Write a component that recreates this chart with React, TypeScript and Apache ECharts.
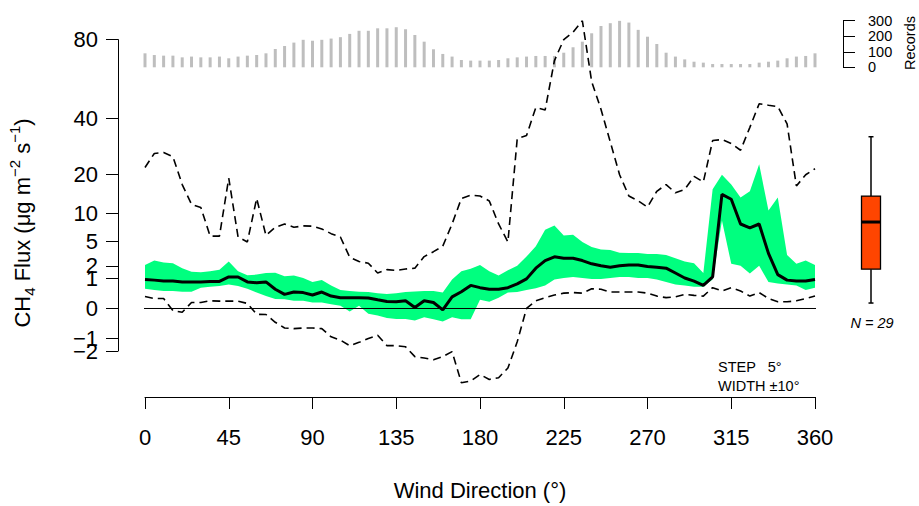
import React, { useEffect, useRef } from "react";
import * as echarts from "echarts";

const directions = [
  0, 5, 10, 15, 20, 25, 30, 35, 40, 45, 50, 55, 60, 65, 70, 75, 80, 85, 90, 95,
  100, 105, 110, 115, 120, 125, 130, 135, 140, 145, 150, 155, 160, 165, 170, 175,
  180, 185, 190, 195, 200, 205, 210, 215, 220, 225, 230, 235, 240, 245, 250, 255,
  260, 265, 270, 275, 280, 285, 290, 295, 300, 305, 310, 315, 320, 325, 330, 335,
  340, 345, 350, 355, 360,
];

const meanFlux = [
  0.93, 0.89, 0.84, 0.83, 0.78, 0.77, 0.77, 0.81, 0.81, 1.1, 1.1, 0.78, 0.73, 0.78, 0.41,
  0.22, 0.3, 0.28, 0.2, 0.3, 0.17, 0.13, 0.13, 0.125, 0.12, 0.083, 0.054, 0.049, 0.065,
  0.001, 0.065, 0.04, -0.002, 0.15, 0.31, 0.59, 0.48, 0.41, 0.41, 0.48, 0.67, 0.97, 1.8,
  2.54, 2.95, 2.79, 2.79, 2.54, 2.21, 2.02, 1.89, 2.02, 2.1, 2.1, 1.96, 1.89, 1.8, 1.39,
  1.03, 0.83, 0.59, 1.1, 14.4, 13.2, 7.9, 7.2, 7.9, 3.36, 1.27, 0.89, 0.83, 0.83, 0.93,
];

const bandUpper = [
  2.1, 2.54, 2.34, 2.27, 1.8, 1.5, 1.45, 1.53, 1.67, 2.44, 1.53, 1.22, 1.27, 1.39, 1.42,
  1.15, 1.2, 1.03, 0.77, 0.89, 0.59, 0.38, 0.34, 0.31, 0.3, 0.26, 0.23, 0.26, 0.3, 0.32,
  0.34, 0.34, 0.28, 0.93, 1.53, 1.75, 2.1, 1.53, 1.2, 1.61, 2.02, 2.98, 4.3, 6.85, 7.6,
  5.9, 6.0, 4.9, 4.2, 3.86, 3.78, 3.45, 3.4, 3.4, 3.29, 3.29, 3.17, 2.79, 2.44, 2.27, 1.39,
  15.7, 19.8, 17.0, 13.6, 15.2, 23.0, 10.6, 13.6, 3.17, 2.21, 2.54, 2.1,
];

const bandLower = [
  0.43, 0.38, 0.34, 0.34, 0.31, 0.31, 0.48, 0.52, 0.56, 0.64, 0.56, 0.43, 0.28, 0.17, 0.1,
  0.096, 0.065, 0.065, 0.04, 0.04, 0.02, 0.008, -0.01, 0.008, -0.03, -0.055, -0.1, -0.12,
  -0.12, -0.16, -0.085, -0.13, -0.19, -0.085, -0.13, -0.13, 0.083, 0.05, 0.13, 0.28, 0.3,
  0.38, 0.45, 0.59, 0.93, 1.03, 1.1, 1.03, 0.97, 0.97, 1.03, 1.1, 1.1, 1.03, 1.03, 0.93,
  0.77, 0.64, 0.59, 0.52, 0.52, 0.93, 8.56, 2.21, 2.02, 1.35, 2.02, 0.77, 0.69, 0.64, 0.59,
  0.38, 0.48,
];

const dashedUpper = [
  22.0, 26.6, 26.9, 25.5, 17.0, 12.0, 11.3, 5.8, 5.8, 18.8, 5.66, 4.9, 13.4, 5.9, 7.3,
  7.9, 7.3, 7.55, 7.5, 7.0, 6.2, 5.66, 2.9, 2.44, 2.27, 1.39, 1.67, 1.6, 1.72, 1.8, 2.98,
  3.57, 4.3, 7.9, 13.4, 14.2, 14.0, 12.8, 7.9, 4.9, 31.9, 33.1, 44.7, 43.6, 68.0, 80.0,
  84.4, 91.6, 57.0, 43.9, 30.7, 19.8, 14.0, 12.8, 11.4, 15.2, 17.0, 14.8, 15.7, 19.3, 17.7,
  31.2, 31.6, 30.1, 27.7, 36.3, 46.4, 45.7, 45.1, 37.7, 16.6, 19.8, 21.6,
];

const dashedLower = [
  0.16, 0.11, 0.11, -0.005, -0.016, 0.04, 0.04, 0.065, 0.06, 0.06, 0.06, 0.028, -0.037,
  -0.04, -0.21, -0.42, -0.45, -0.42, -0.42, -0.45, -0.89, -1.11, -1.53, -1.27, -0.99,
  -0.79, -1.53, -1.53, -1.62, -2.56, -2.72, -2.91, -2.56, -2.06, -6.1, -5.83, -4.82, -5.57,
  -5.3, -3.91, -1.23, 0.0, 0.065, 0.13, 0.2, 0.26, 0.28, 0.26, 0.43, 0.41, 0.3, 0.3, 0.3,
  0.3, 0.26, 0.17, 0.13, 0.15, 0.22, 0.19, 0.17, 0.48, 0.34, 0.48, 0.34, 0.17, 0.28, 0.11,
  0.05, 0.05, 0.065, 0.11, 0.17,
];

const records = [
  90, 79, 75, 75, 64, 69, 64, 64, 69, 58, 69, 75, 79, 90, 118, 137, 159, 177, 171, 177,
  185, 194, 215, 235, 235, 251, 251, 258, 245, 208, 165, 116, 86, 69, 47, 43, 43, 43, 47,
  58, 64, 69, 73, 73, 73, 94, 129, 165, 219, 266, 284, 299, 288, 241, 197, 150, 94, 69, 51,
  36, 30, 21, 21, 21, 21, 21, 30, 36, 43, 58, 69, 73, 90,
];

// listed so that the crowded pairs (−2/−1) are not the first two labels
const yTickValues = [0, -1, -2, 1, 2, 5, 10, 20, 40, 80];
const recordTicks = [0, 100, 200, 300];
// min whisker, Q1, median, Q3, max whisker
const boxStats = [0.13, 2.14, 9.0, 14.8, 33.4];
const nObs = 29;
const stepText = "STEP   5°";
const widthText = "WIDTH ±10°";

const tr = (v: number) => Math.sign(v) * Math.sqrt(Math.abs(v));

const FONT = "'Liberation Sans', Arial, Helvetica, sans-serif";

export default function App() {
  const ref = useRef<HTMLDivElement>(null);

  useEffect(() => {
    if (!ref.current) return;
    const chart = echarts.init(ref.current, undefined, { renderer: "svg" });
    const yMin = tr(-2);
    const yMax = tr(80);
    const yTicksT = yTickValues.map(tr);

    const bandData = directions.map((d, i) => [d, tr(bandLower[i]), tr(bandUpper[i])]);

    const option: any = {
      animation: false,
      textStyle: { fontFamily: FONT },
      grid: [
        { left: 145, right: 104, top: 39.6, bottom: 148.5 },
        { left: 145, right: 104, top: 20.7, bottom: 438.7 },
        { left: 860, right: 37, top: 39.6, bottom: 148.5 },
      ],
      xAxis: [
        {
          type: "value",
          gridIndex: 0,
          min: 0,
          max: 360,
          interval: 45,
          offset: 46,
          axisLine: { show: true, onZero: false, lineStyle: { color: "#000", width: 1 } },
          axisTick: { show: true, length: 12, lineStyle: { color: "#000", width: 1 } },
          axisLabel: { fontSize: 22, color: "#000", margin: 29, fontFamily: FONT },
          splitLine: { show: false },
          name: "Wind Direction (°)",
          nameLocation: "middle",
          nameGap: 82,
          nameTextStyle: { fontSize: 22, color: "#000", fontFamily: FONT },
        },
        { type: "value", gridIndex: 1, min: 0, max: 360, show: false },
        { type: "category", gridIndex: 2, data: ["box"], show: false },
      ],
      yAxis: [
        {
          type: "value",
          gridIndex: 0,
          min: yMin,
          max: yMax,
          offset: 27,
          axisLine: { show: true, onZero: false, lineStyle: { color: "#000", width: 1 } },
          axisTick: {
            show: true,
            length: 12,
            customValues: yTicksT,
            lineStyle: { color: "#000", width: 1 },
          },
          axisLabel: {
            customValues: yTicksT,
            hideOverlap: false,
            fontSize: 22,
            color: "#000",
            margin: 20,
            fontFamily: FONT,
            formatter: (val: number) => {
              const v = Math.round(Math.sign(val) * val * val);
              return v < 0 ? "\u2212" + Math.abs(v) : String(v);
            },
          },
          splitLine: { show: false },
        },
        {
          type: "value",
          gridIndex: 1,
          min: 0,
          max: 300,
          interval: 100,
          position: "right",
          offset: 28,
          axisLine: { show: true, onZero: false, lineStyle: { color: "#000", width: 1 } },
          axisTick: { show: true, length: 12, lineStyle: { color: "#000", width: 1 } },
          axisLabel: {
            fontSize: 14.5,
            color: "#000",
            margin: 25,
            fontFamily: FONT,
            customValues: recordTicks,
          },
          splitLine: { show: false },
        },
        { type: "value", gridIndex: 2, min: yMin, max: yMax, show: false },
      ],
      series: [
        {
          type: "bar",
          xAxisIndex: 1,
          yAxisIndex: 1,
          data: directions.map((d, i) => [d, records[i]]),
          barWidth: 3,
          itemStyle: { color: "#BEBEBE" },
        },
        {
          type: "custom",
          xAxisIndex: 0,
          yAxisIndex: 0,
          data: bandData,
          encode: { x: 0, y: [1, 2] },
          clip: false,
          silent: true,
          renderItem: (params: any, api: any) => {
            if (params.dataIndex !== 0) return null;
            const top = bandData.map((r) => api.coord([r[0], r[2]]));
            const bottom = bandData.map((r) => api.coord([r[0], r[1]])).reverse();
            return {
              type: "polygon",
              shape: { points: top.concat(bottom) },
              style: { fill: "#00FF7F" },
            };
          },
        },
        {
          type: "line",
          xAxisIndex: 0,
          yAxisIndex: 0,
          data: directions.map((d, i) => [d, tr(dashedUpper[i])]),
          symbol: "none",
          clip: false,
          lineStyle: { color: "#000", width: 1.6, type: [8, 5] },
        },
        {
          type: "line",
          xAxisIndex: 0,
          yAxisIndex: 0,
          data: directions.map((d, i) => [d, tr(dashedLower[i])]),
          symbol: "none",
          clip: false,
          lineStyle: { color: "#000", width: 1.6, type: [8, 5] },
        },
        {
          type: "line",
          xAxisIndex: 0,
          yAxisIndex: 0,
          data: [
            [-14.4, 0],
            [374.4, 0],
          ],
          symbol: "none",
          clip: false,
          lineStyle: { color: "#000", width: 1 },
          silent: true,
        },
        {
          type: "line",
          xAxisIndex: 0,
          yAxisIndex: 0,
          data: directions.map((d, i) => [d, tr(meanFlux[i])]),
          symbol: "none",
          clip: false,
          lineStyle: { color: "#000", width: 3 },
        },
        {
          type: "custom",
          xAxisIndex: 2,
          yAxisIndex: 2,
          data: [[0, ...boxStats.map(tr)]],
          encode: { x: 0, y: [1, 2, 3, 4, 5] },
          renderItem: (_params: any, api: any) => {
            const lo = api.coord([0, api.value(1)]);
            const q1 = api.coord([0, api.value(2)]);
            const md = api.coord([0, api.value(3)]);
            const q3 = api.coord([0, api.value(4)]);
            const hi = api.coord([0, api.value(5)]);
            const cx = lo[0];
            const hw = 9.5;
            const cap = 2.5;
            const s = { stroke: "#000", lineWidth: 1.5 };
            return {
              type: "group",
              children: [
                { type: "line", shape: { x1: cx, y1: hi[1], x2: cx, y2: q3[1] }, style: s },
                { type: "line", shape: { x1: cx, y1: q1[1], x2: cx, y2: lo[1] }, style: s },
                { type: "line", shape: { x1: cx - cap, y1: hi[1], x2: cx + cap, y2: hi[1] }, style: s },
                { type: "line", shape: { x1: cx - cap, y1: lo[1], x2: cx + cap, y2: lo[1] }, style: s },
                {
                  type: "rect",
                  shape: { x: cx - hw, y: q3[1], width: hw * 2, height: q1[1] - q3[1] },
                  style: { fill: "#FF4500", stroke: "#000", lineWidth: 1.3 },
                },
                {
                  type: "line",
                  shape: { x1: cx - hw, y1: md[1], x2: cx + hw, y2: md[1] },
                  style: { stroke: "#000", lineWidth: 3 },
                },
              ],
            };
          },
        },
      ],
      graphic: [
        {
          type: "text",
          x: 22,
          y: 223,
          rotation: Math.PI / 2,
          style: {
            text: "{n|CH}{s|4}{n| Flux (μg m}{p|−2}{n| s}{p|−1}{n|)}",
            align: "center",
            verticalAlign: "middle",
            fill: "#000",
            rich: {
              n: { fontSize: 22, lineHeight: 30, fontFamily: FONT, fill: "#000" },
              s: { fontSize: 15, lineHeight: 15, verticalAlign: "bottom", fontFamily: FONT, fill: "#000" },
              p: { fontSize: 15, lineHeight: 15, verticalAlign: "top", fontFamily: FONT, fill: "#000" },
            },
          },
        },
        {
          type: "text",
          x: 910,
          y: 43,
          rotation: Math.PI / 2,
          style: {
            text: "Records",
            align: "center",
            verticalAlign: "middle",
            fill: "#000",
            font: `14.5px ${FONT}`,
          },
        },
        {
          type: "text",
          x: 872,
          y: 323,
          style: {
            text: `N = ${nObs}`,
            align: "center",
            verticalAlign: "middle",
            fill: "#000",
            font: `italic 14.5px ${FONT}`,
          },
        },
        {
          type: "text",
          x: 718,
          y: 367,
          style: {
            text: stepText,
            align: "left",
            verticalAlign: "middle",
            fill: "#000",
            font: `14.5px ${FONT}`,
          },
        },
        {
          type: "text",
          x: 718,
          y: 386,
          style: {
            text: widthText,
            align: "left",
            verticalAlign: "middle",
            fill: "#000",
            font: `14.5px ${FONT}`,
          },
        },
      ],
    };

    chart.setOption(option);
    return () => chart.dispose();
  }, []);

  return (
    <div
      ref={ref}
      style={{ position: "fixed", left: 0, top: 0, width: 919, height: 506, background: "#fff" }}
    />
  );
}
